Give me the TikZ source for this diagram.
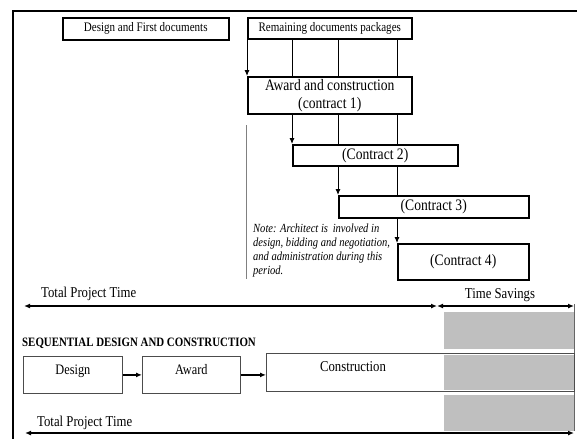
\documentclass[tikz,border=0pt]{standalone}
\usepackage{fontspec}
\setmainfont{Liberation Serif}[FakeStretch=0.85]
\usetikzlibrary{arrows.meta}
\begin{document}
\begin{tikzpicture}[x=1pt,y=-1pt,>={Latex[length=6pt,width=5pt]},
  docbox/.style={draw,line width=1.5pt,inner sep=0pt,anchor=north west,font=\fontsize{13}{15}\selectfont},
  ctrbox/.style={draw,line width=1.5pt,inner sep=0pt,anchor=north west,align=center,font=\fontsize{16}{18}\selectfont},
  seqbox/.style={draw=black!70,line width=0.8pt,inner sep=0pt,anchor=north west,text height=5pt,text depth=5pt,font=\fontsize{14.5}{16}\selectfont},
  link/.style={line width=0.9pt},
  span/.style={<->,line width=1.2pt},
  savebar/.style={fill=black!25}]
\useasboundingbox (0,0) rectangle (577,439);

\draw[line width=1.5pt] (577,11) -- (13,11) -- (13,439);

\node[docbox,minimum width=166pt,minimum height=22pt] (first) at (62,17) {Design and First documents};
\node[docbox,minimum width=164pt,minimum height=21pt] (remain) at (247,17) {Remaining documents packages};

\node[ctrbox,minimum width=164pt,minimum height=37pt] (award) at (247,76) {Award and construction\\(contract 1)};
\node[ctrbox,minimum width=165pt,minimum height=21pt] (c2) at (292,144) {(Contract 2)};
\node[ctrbox,minimum width=190pt,minimum height=22pt] (c3) at (338,195) {(Contract 3)};
\node[ctrbox,minimum width=131pt,minimum height=36pt] (c4) at (397,243) {(Contract 4)};

\draw[link,->] (remain.south west) -- (award.north west);
\draw[link] (remain.south -| c2.west) -- (award.north -| c2.west);
\draw[link] (remain.south -| c3.west) -- (award.north -| c3.west);
\draw[link] (remain.south -| c4.west) -- (award.north -| c4.west);

\draw[link,->] (award.south -| c2.west) -- (c2.north west);
\draw[link] (award.south -| c3.west) -- (c2.north -| c3.west);
\draw[link] (award.south -| c4.west) -- (c2.north -| c4.west);

\draw[link,->] (c2.south -| c3.west) -- (c3.north west);
\draw[link] (c2.south -| c4.west) -- (c3.north -| c4.west);

\draw[link,->] (c3.south -| c4.west) -- (c4.north west);

\coordinate (notetop) at (246,125);
\coordinate (notebot) at (246,279);
\draw[black!50,line width=1pt] (notetop) -- (notebot);
\node[anchor=north west,align=left,inner sep=0pt,font=\fontsize{12.4}{14}\selectfont\itshape] (note) at (253,224)
  {Note: Architect is\, involved in\\design, bidding and negotiation,\\and administration during this\\period.};

\fill[savebar] (444,312) rectangle (574,349);
\fill[savebar] (444,355) rectangle (574,390);
\fill[savebar] (444,395) rectangle (574,431);
\draw[black!60,line width=0.8pt] (574,304) -- (574,431);

\coordinate (topleft) at (24,306);
\coordinate (topmid) at (437,306);
\coordinate (topright) at (574,306);
\coordinate (botleft) at (25,433);
\coordinate (botright) at (574,433);

\draw[span] (topleft) -- (topmid);
\draw[span] (topmid) -- (topright);
\draw[span] (botleft) -- (botright);

\node[anchor=west,inner sep=0pt,font=\fontsize{15}{17}\selectfont] (totaltop) at (41,294) {Total Project Time};
\node[inner sep=0pt,font=\fontsize{15}{17}\selectfont] (savings) at (500,295) {Time Savings};
\node[anchor=west,inner sep=0pt,font=\fontsize{15}{17}\selectfont] (totalbot) at (37,423) {Total Project Time};

\node[anchor=west,inner sep=0pt,font=\fontsize{12.8}{14}\selectfont\bfseries] (seqtitle) at (22,343) {SEQUENTIAL DESIGN AND CONSTRUCTION};

\node[seqbox,minimum width=99pt,minimum height=37pt] (design) at (23,356) {Design};
\node[seqbox,minimum width=98pt,minimum height=37pt] (awd) at (142,356) {Award};
\node[seqbox,minimum width=308pt,minimum height=38pt] (build) at (266,353) {};
\node[inner sep=0pt,font=\fontsize{15}{17}\selectfont] (buildtext) at (353,367) {Construction};

\draw[line width=1.2pt,->] (design.east) -- (awd.west);
\draw[line width=1.2pt,->] (awd.east) -- (awd.east -| build.west);

\end{tikzpicture}
\end{document}
